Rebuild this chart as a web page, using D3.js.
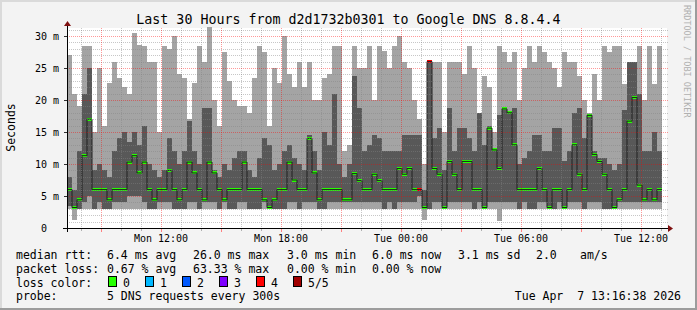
<!DOCTYPE html>
<html>
<head>
<meta charset="utf-8">
<script src="https://cdn.jsdelivr.net/npm/d3@7"></script>
<style>
  body { margin: 0; background: #f3f3f3; }
  text { font-family: "DejaVu Sans Mono", monospace; white-space: pre; }
</style>
</head>
<body>
<div id="chart"></div>
<script>
// smoke values per 15 minute column, in ms
const hiVals = [27,21,19,28.5,28.5,15,25,16,22.6,26, 23.5,22,21,30.4,28.6,28.5,26,26,15,28.5,
  28,30,24,23.5,17,22.6,28.5,26,31.4,20, 16,27.5,23,20,19,19,18,23.5,28.5,27.5,
  16,25,22.6,30,24,22,26,22,26,20, 20,23.5,24,28.5,28.5,12,13,28.5,25,25,
  28.5,20,28.5,27.6,25,28.5,30,26,25,20, 17,10,26,26,26,15,26,26,26,24,
  28.5,25,18,23.7,22,15,28.5,27.5,26,27.5, 20,25,28.5,26,28.5,27.5,26,25,22,27.5,
  26,26,23.7,20,18,24,20,28.5,27.5,28.5, 28.5,22.5,26,26,28.5,20,28.5,22.5,28.5];
const q3Vals = [8,6,12,21,25,9,10,9,8,12, 14,15,13.5,15,13,16,10,9,8,9,
  14,12,10,12,16.7,12,10,18.7,18.7,9, 8,10,9,11,12,12,9,8,11,14,
  13,9,10,12,13,11,10,9,14.6,12, 9,15,13,21,10,8,10,23.7,18.75,12,
  13,14.6,14,12,12,12,12,14.6,14.6,14.6, 14.6,6,26,14,15.6,9,18.75,12,15.6,15.6,
  14,12,18,13,16,12.2,17.7,18.75,18,18.75, 10,11,12,14.6,14.6,12,12,15.6,15.6,10.4,
  12,18,18.75,14,17.7,12,11,11,10,9, 10,18.5,26,26,21,12,12,15,12];
const medVals = [6,3.2,4.4,11.3,17,6,6,6,4.4,6, 6,6,10.3,11.3,8.6,10.3,6,4.4,6,6,
  9,6,4.4,6,10.3,8.6,6,4.4,10.3,8.6, 6,4.4,6,6,6,10.3,6,6,6,4.4,
  3.2,4.4,6,6,10.3,7.5,6,6,14,8.6, 4.4,6,6,6,6,4.4,4.4,8.5,7.4,6,
  6,8.4,7.4,6,6,6,9.3,8.4,9.3,6, 6,3.2,26,9.3,8.4,3.2,10.4,8.4,6,10.4,
  10.4,6,6,3.2,15.6,12.2,9.3,18.6,18,13, 6,6,6,6,9.3,6,3.2,6,6,3.2,
  6,13,8.4,6,17.6,11.5,10.4,8.4,6,3.2, 4.4,6,16.7,20.4,6.7,4.4,6,4.4,6];
const q1Vals = [3.5,3,3,4,5,3,4,3,3,4, 4,4,5,5,5,4,3,3,4,4,
  4,3,3,3,4,4,3,4,4,4, 3,4,3,3,4,4,3,3,3,4,
  3,3,3,3,4,4,3,4,4,4, 3,3,4,4,4,4,4,4,4,4,
  4,4,4,3,4,3,4,4,4,4, 5,3,3,4,4,3,4,4,4,4,
  4,3,4,3,4,4,4,4,4,4, 3,4,3,3,4,4,3,3,4,3,
  4,4,4,3,4,4,4,3,3,3, 4,4,4,4,4,4,4,4,4];
const loVals = [3,1.2,3,3,3,3,3,3,3,3, 3,3,3,3,3,3,3,3,3,3,
  3,3,3,3,3,3,3,3,3,3, 3,3,3,3,3,3,3,3,3,3,
  3,3,3,3,3,3,3,3,3,3, 3,3,3,3,3,3,3,3,3,3,
  3,3,3,3,3,3,3,3,3,3, 3,1.3,3,3,3,3,3,3,3,3,
  3,3,3,3,3,3,1.1,3,3,3, 3,3,3,3,3,3,3,3,3,3,
  3,3,3,3,3,3,3,3,3,3, 3,3,3,3,3,3,3,3,3];
// lost pings per column (of 5)
const lossVals = [0,0,0,0,0,0,0,0,0,0, 0,0,0,0,0,0,0,0,0,0,
  0,0,0,0,0,0,0,0,0,0, 0,0,0,0,0,0,0,0,0,0,
  0,0,0,0,0,0,0,0,0,0, 0,0,0,0,0,0,0,0,0,0,
  0,0,0,0,0,0,0,0,0,0, 4,0,4,0,0,0,0,0,0,0,
  0,0,0,0,0,0,0,0,0,0, 0,0,0,0,0,0,0,0,0,0,
  0,0,0,0,0,0,0,0,0,0, 0,0,0,0,0,0,0,0,0];

const yTickValues = [0, 5, 10, 15, 20, 25, 30];
const yTickLabels = ["0", "5 m", "10 m", "15 m", "20 m", "25 m", "30 m"];
const lossLabels = ["0", "1", "2", "3", "4", "5/5"];
const lossColors = ["#26ff00", "#00b8ff", "#0059ff", "#7e00ff", "#ff0000", "#a10000"];

const title = "Last 30 Hours from d2d1732b0301 to Google DNS 8.8.4.4";
const rttLegend = ["median rtt:", "6.4 ms avg", "26.0 ms max", "3.0 ms min", "6.0 ms now", "3.1 ms sd", "2.0", "am/s"];
const lossLegend = ["packet loss:", "0.67 % avg", "63.33 % max", "0.00 % min", "0.00 % now"];
const probeLegend = ["probe:", "5 DNS requests every 300s"];
const stamp = "Tue Apr  7 13:16:38 2026";

const width = 697, height = 310;
const start = new Date(2026, 3, 6, 7, 18);
const end = d3.timeHour.offset(start, 30);
const stepMin = 15;
const colTime = i => d3.timeMinute.offset(start, i * stepMin);

const svg = d3.select("#chart").append("svg")
  .attr("width", width)
  .attr("height", height);

// background + shaded frame
svg.append("rect").attr("width", width).attr("height", height).attr("fill", "#f3f3f3");
svg.append("rect").attr("x", 0).attr("y", 0).attr("width", width).attr("height", 2).attr("fill", "#dadada");
svg.append("rect").attr("x", 0).attr("y", 0).attr("width", 2).attr("height", height).attr("fill", "#dadada");
svg.append("rect").attr("x", 0).attr("y", height - 2).attr("width", width).attr("height", 2).attr("fill", "#9c9c9c");
svg.append("rect").attr("x", width - 2).attr("y", 0).attr("width", 2).attr("height", height).attr("fill", "#9c9c9c");

const xScale = d3.scaleTime().domain([start, end]).range([67, 667]);
const yScale = d3.scaleLinear().domain([0, 31.25]).range([228, 28]);

svg.append("rect")
  .attr("x", 67).attr("y", 28)
  .attr("width", 600).attr("height", 200)
  .attr("fill", "#ffffff");

const cols = d3.range(hiVals.length);
const colX = i => xScale(colTime(i));
const colW = i => xScale(colTime(i + 1)) - xScale(colTime(i));

const plot = svg.append("g").attr("shape-rendering", "crispEdges");

// outer smoke (min..max)
plot.selectAll("rect.light").data(cols).join("rect")
  .attr("class", "light")
  .attr("x", colX).attr("width", colW)
  .attr("y", i => yScale(hiVals[i]))
  .attr("height", i => yScale(loVals[i]) - yScale(hiVals[i]))
  .attr("fill", "#a4a4a4");

// inner smoke (2nd..4th ping)
plot.selectAll("rect.dark").data(cols).join("rect")
  .attr("class", "dark")
  .attr("x", colX).attr("width", colW)
  .attr("y", i => yScale(q3Vals[i]))
  .attr("height", i => yScale(q1Vals[i]) - yScale(q3Vals[i]))
  .attr("fill", "#585858");

// median, thin dark step line
const stepPts = cols.map(i => [colX(i), yScale(medVals[i])]);
stepPts.push([colX(cols.length), yScale(medVals[cols.length - 1])]);
svg.append("path")
  .attr("d", d3.line().curve(d3.curveStepAfter)(stepPts))
  .attr("fill", "none")
  .attr("stroke", "#202020")
  .attr("stroke-width", 1);

// median coloured by loss
plot.selectAll("rect.med").data(cols).join("rect")
  .attr("class", "med")
  .attr("x", colX).attr("width", colW)
  .attr("y", i => yScale(medVals[i]) - 1.5)
  .attr("height", 3)
  .attr("fill", i => lossColors[lossVals[i]]);

// grid on top
const grid = svg.append("g");
const minorY = d3.range(1, 32).filter(v => v % 5 !== 0);
grid.selectAll("line.hmin").data(minorY).join("line")
  .attr("x1", 67).attr("x2", 669)
  .attr("y1", d => Math.round(yScale(d)) + 0.5).attr("y2", d => Math.round(yScale(d)) + 0.5)
  .attr("stroke", "rgba(130,130,130,0.45)").attr("stroke-dasharray", "1,1");
const hours = xScale.ticks(d3.timeHour.every(1)).filter(d => d.getHours() % 3 !== 0);
grid.selectAll("line.vmin").data(hours).join("line")
  .attr("y1", 28).attr("y2", 228)
  .attr("x1", d => Math.round(xScale(d)) + 0.5).attr("x2", d => Math.round(xScale(d)) + 0.5)
  .attr("stroke", "rgba(130,130,130,0.45)").attr("stroke-dasharray", "1,1");
grid.selectAll("line.hmaj").data(yTickValues.slice(1)).join("line")
  .attr("x1", 67).attr("x2", 669)
  .attr("y1", d => Math.round(yScale(d)) + 0.5).attr("y2", d => Math.round(yScale(d)) + 0.5)
  .attr("stroke", "rgba(255,0,0,0.4)").attr("stroke-dasharray", "1,1");
const majors = xScale.ticks(d3.timeHour.every(3));
grid.selectAll("line.vmaj").data(majors).join("line")
  .attr("y1", 28).attr("y2", 228)
  .attr("x1", d => Math.round(xScale(d)) + 0.5).attr("x2", d => Math.round(xScale(d)) + 0.5)
  .attr("stroke", "rgba(255,0,0,0.4)").attr("stroke-dasharray", "1,1");

// axis ticks below the x axis
grid.selectAll("line.tmin").data(hours).join("line")
  .attr("y1", 229).attr("y2", 231)
  .attr("x1", d => Math.round(xScale(d)) + 0.5).attr("x2", d => Math.round(xScale(d)) + 0.5)
  .attr("stroke", "#b0b0b0");
grid.selectAll("line.tmaj").data(majors).join("line")
  .attr("y1", 229).attr("y2", 232)
  .attr("x1", d => Math.round(xScale(d)) + 0.5).attr("x2", d => Math.round(xScale(d)) + 0.5)
  .attr("stroke", "#ff8080");
grid.selectAll("line.ytick").data(yTickValues).join("line")
  .attr("x1", 64).attr("x2", 67)
  .attr("y1", d => Math.round(yScale(d)) + 0.5).attr("y2", d => Math.round(yScale(d)) + 0.5)
  .attr("stroke", "#303030");

// axes + arrows
svg.append("line").attr("x1", 63).attr("x2", 669).attr("y1", 228.5).attr("y2", 228.5).attr("stroke", "#000");
svg.append("line").attr("x1", 67.5).attr("x2", 67.5).attr("y1", 232).attr("y2", 25).attr("stroke", "#000");
svg.append("path").attr("d", "M668,225L673,228.5L668,232Z").attr("fill", "#7f1010");
svg.append("path").attr("d", "M64,26L67.5,21L71,26Z").attr("fill", "#7f1010");

// y labels
svg.selectAll("text.ylab").data(yTickValues).join("text")
  .attr("x", (d, i) => i === 0 ? 47 : 59)
  .attr("y", d => yScale(d) + 3.6)
  .attr("text-anchor", "end")
  .attr("font-size", "10px")
  .text((d, i) => yTickLabels[i]);

// x labels
const labelTimes = xScale.ticks(d3.timeHour.every(6));
svg.selectAll("text.xlab").data(labelTimes).join("text")
  .attr("x", d => xScale(d))
  .attr("y", 242)
  .attr("text-anchor", "middle")
  .attr("font-size", "10px")
  .text(d3.timeFormat("%a %H:%M"));

svg.append("text")
  .attr("x", 348.5).attr("y", 24)
  .attr("text-anchor", "middle")
  .attr("font-size", "13.3px")
  .text(title);

svg.append("text")
  .attr("transform", "translate(15,127.5) rotate(-90)")
  .attr("text-anchor", "middle")
  .attr("font-size", "11.5px")
  .text("Seconds");

svg.append("text")
  .attr("transform", "translate(683.5,5) rotate(90)")
  .attr("font-size", "8.5px")
  .attr("fill", "#b0b0b0")
  .text("RRDTOOL / TOBI OETIKER");

// legend
const legend = svg.append("g").attr("font-size", "11.5px");
const rttX = [16, 107, 193, 287, 372, 458, 536, 580];
rttLegend.forEach((t, i) => legend.append("text").attr("x", rttX[i]).attr("y", 259.4).text(t));
lossLegend.forEach((t, i) => legend.append("text").attr("x", rttX[i]).attr("y", 273).text(t));
legend.append("text").attr("x", 16).attr("y", 286.8).text("loss color:");
const boxX = [108.5, 145.5, 182.5, 219.5, 256.5, 293.5];
lossLabels.forEach((t, i) => {
  legend.append("rect")
    .attr("x", boxX[i]).attr("y", 276.5)
    .attr("width", 8).attr("height", 10)
    .attr("fill", lossColors[i])
    .attr("stroke", "#000");
  legend.append("text").attr("x", boxX[i] + 14.5).attr("y", 286.8).text(t);
});
probeLegend.forEach((t, i) => legend.append("text").attr("x", rttX[i]).attr("y", 300.4).text(t));
legend.append("text").attr("x", 681).attr("y", 300.4).attr("text-anchor", "end").text(stamp);
</script>
</body>
</html>
